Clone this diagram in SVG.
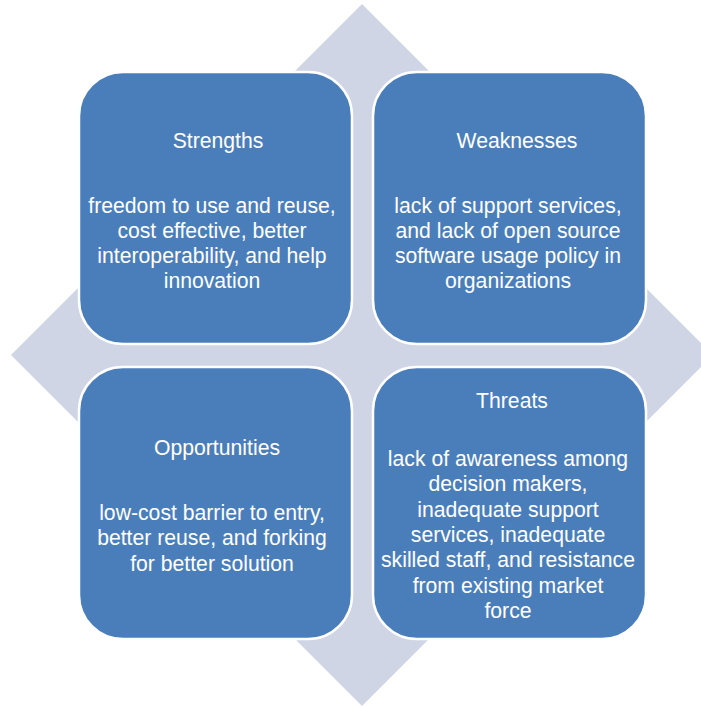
<svg xmlns="http://www.w3.org/2000/svg" width="701" height="707" viewBox="0 0 701 707">
<style>
.box{fill:#4a7ebb;stroke:#ffffff;stroke-width:2.5}
.t{font-family:"Liberation Sans",Arial,sans-serif;font-size:21.2px;fill:#ffffff;text-anchor:middle}
</style>
<rect width="701" height="707" fill="#ffffff"/>
<g id="diamond"><polygon points="362,4 713,355 362,706 11,355" fill="#d0d5e6"/></g>
<g id="connectors"></g>
<g id="strengths">
<rect class="box" x="79" y="72" width="273" height="272" rx="44"/>
<text class="t" x="218" y="148">Strengths</text>
<text class="t" x="212" y="213">freedom to use and reuse,</text>
<text class="t" x="212" y="238">cost effective, better</text>
<text class="t" x="212" y="263">interoperability, and help</text>
<text class="t" x="212" y="288">innovation</text>
</g>
<g id="weaknesses">
<rect class="box" x="373" y="72" width="273" height="272" rx="44"/>
<text class="t" x="517" y="148">Weaknesses</text>
<text class="t" x="508" y="213">lack of support services,</text>
<text class="t" x="508" y="238">and lack of open source</text>
<text class="t" x="508" y="263">software usage policy in</text>
<text class="t" x="508" y="288">organizations</text>
</g>
<g id="opportunities">
<rect class="box" x="79" y="367" width="273" height="272" rx="44"/>
<text class="t" x="217" y="455">Opportunities</text>
<text class="t" x="212" y="520">low-cost barrier to entry,</text>
<text class="t" x="212" y="545">better reuse, and forking</text>
<text class="t" x="212" y="571">for better solution</text>
</g>
<g id="threats">
<rect class="box" x="373" y="367" width="273" height="272" rx="44"/>
<text class="t" x="512" y="408">Threats</text>
<text class="t" x="508" y="466">lack of awareness among</text>
<text class="t" x="508" y="491">decision makers,</text>
<text class="t" x="508" y="517">inadequate support</text>
<text class="t" x="508" y="542">services, inadequate</text>
<text class="t" x="508" y="567">skilled staff, and resistance</text>
<text class="t" x="508" y="593">from existing market</text>
<text class="t" x="508" y="618">force</text>
</g>
</svg>
